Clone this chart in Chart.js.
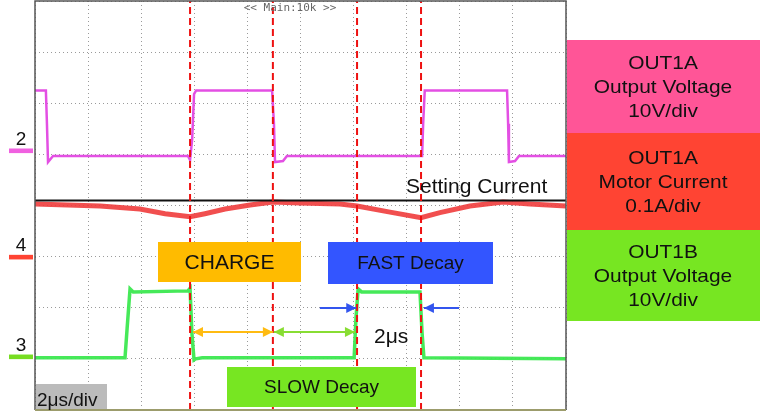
<!DOCTYPE html>
<html>
<head>
<meta charset="utf-8">
<script src="https://cdn.jsdelivr.net/npm/chart.js@4/dist/chart.umd.min.js"></script>
<style>
  html, body { margin: 0; padding: 0; background: #fff; }
  canvas { display: block; }
</style>
</head>
<body>
<canvas id="scope" width="760" height="414"></canvas>
<script>
// time in us (2us/div, 10 div), amplitude in divisions (8 div)
var ch2Time = [0, 0.41, 0.45, 0.49, 0.68, 5.76, 5.84, 5.92, 5.99, 6.07, 8.93, 9.0, 9.04, 9.34, 9.49, 14.58, 14.62, 14.68, 17.78, 17.82, 17.85, 18.08, 18.23, 20];
var ch2Volt = [6.25, 6.25, 5.6, 4.85, 4.97, 4.97, 4.89, 5.3, 6.18, 6.25, 6.25, 5.6, 4.85, 4.87, 4.97, 4.97, 5.6, 6.25, 6.25, 5.6, 4.85, 4.87, 4.97, 4.97];

var ch4Time = [0, 2.45, 3.95, 4.9, 5.84, 6.4, 7.16, 8.1, 8.96, 9.98, 11.49, 12.13, 13.37, 14.54, 15.25, 16.38, 17.63, 18.64, 20];
var ch4Amp  = [4.03, 3.99, 3.93, 3.84, 3.78, 3.84, 3.93, 4.01, 4.07, 4.05, 4.03, 3.99, 3.87, 3.76, 3.86, 3.99, 4.07, 4.03, 3.99];

var ch3Time = [0, 3.39, 3.47, 3.58, 3.7, 5.76, 5.84, 5.91, 5.99, 6.05, 6.3, 12.02, 12.09, 12.17, 12.3, 14.5, 14.58, 14.65, 20];
var ch3Volt = [1.02, 1.02, 1.6, 2.37, 2.31, 2.33, 2.38, 1.5, 0.98, 1.0, 1.02, 1.02, 1.8, 2.37, 2.31, 2.31, 1.5, 1.02, 1.0];

var settingCurrent = 4.1;
var cursorTimes = [5.84, 8.96, 12.13, 14.54];

var channelLabels = ['2', '4', '3'];
var channelLevels = [5.07, 2.99, 1.04];

var legendTitles = [
  ['OUT1A', 'Output Voltage', '10V/div'],
  ['OUT1A', 'Motor Current', '0.1A/div'],
  ['OUT1B', 'Output Voltage', '10V/div']
];

function pts(xs, ys) {
  return xs.map(function (x, i) { return { x: x, y: ys[i] }; });
}

var FONT = '"Liberation Sans", Arial, sans-serif';

var datasets = [];
cursorTimes.forEach(function (t) {
  datasets.push({
    data: [{ x: t, y: 0 }, { x: t, y: 8 }],
    borderColor: '#ee1111', borderWidth: 2, borderDash: [7, 4],
    pointRadius: 0, order: 0
  });
});
datasets.push({
  data: [{ x: 0, y: settingCurrent }, { x: 20, y: settingCurrent }],
  borderColor: '#111111', borderWidth: 2, pointRadius: 0, order: 1
});
datasets.push({
  data: pts(ch2Time, ch2Volt),
  borderColor: 'rgba(226, 70, 226, 0.95)', borderWidth: 2.5, pointRadius: 0, order: 2
});
datasets.push({
  data: pts(ch4Time, ch4Amp),
  borderColor: 'rgba(240, 60, 60, 0.9)', borderWidth: 5, pointRadius: 0, order: 3
});
datasets.push({
  data: pts(ch3Time, ch3Volt),
  borderColor: 'rgba(60, 232, 80, 0.95)', borderWidth: 3.5, pointRadius: 0, order: 4
});

function stretchText(ctx, text, x, y, sx) {
  ctx.save();
  ctx.translate(x, y);
  ctx.scale(sx, 1);
  ctx.fillText(text, 0, 0);
  ctx.restore();
}

function arrow(ctx, x1, x2, y, color, headStart, headEnd) {
  ctx.save();
  ctx.strokeStyle = color;
  ctx.fillStyle = color;
  ctx.lineWidth = 2;
  ctx.beginPath();
  ctx.moveTo(x1, y);
  ctx.lineTo(x2, y);
  ctx.stroke();
  var dir = x2 > x1 ? 1 : -1;
  if (headEnd) {
    ctx.beginPath();
    ctx.moveTo(x2, y);
    ctx.lineTo(x2 - dir * 10, y - 5);
    ctx.lineTo(x2 - dir * 10, y + 5);
    ctx.closePath();
    ctx.fill();
  }
  if (headStart) {
    ctx.beginPath();
    ctx.moveTo(x1, y);
    ctx.lineTo(x1 + dir * 10, y - 5);
    ctx.lineTo(x1 + dir * 10, y + 5);
    ctx.closePath();
    ctx.fill();
  }
  ctx.restore();
}

function box(ctx, x1, y1, x2, y2, fill, text, size) {
  ctx.fillStyle = fill;
  ctx.fillRect(x1, y1, x2 - x1, y2 - y1);
  ctx.fillStyle = '#111';
  ctx.font = size + 'px ' + FONT;
  ctx.textAlign = 'center';
  ctx.textBaseline = 'middle';
  ctx.fillText(text, (x1 + x2) / 2, (y1 + y2) / 2 + 1);
}

var scopeDecor = {
  id: 'scopeDecor',
  afterDatasetsDraw: function (chart) {
    var ctx = chart.ctx;
    var a = chart.chartArea;
    var xs = chart.scales.x, ys = chart.scales.y;
    var X = function (v) { return xs.getPixelForValue(v); };
    var Y = function (v) { return ys.getPixelForValue(v); };

    ctx.save();
    // frame
    ctx.strokeStyle = '#555';
    ctx.lineWidth = 1.5;
    ctx.beginPath();
    ctx.moveTo(a.left, a.bottom);
    ctx.lineTo(a.left, a.top);
    ctx.lineTo(a.right, a.top);
    ctx.lineTo(a.right, a.bottom);
    ctx.stroke();
    ctx.strokeStyle = '#9c9c6c';
    ctx.lineWidth = 2;
    ctx.beginPath();
    ctx.moveTo(a.left, a.bottom);
    ctx.lineTo(a.right, a.bottom);
    ctx.stroke();

    // top label
    ctx.fillStyle = '#666';
    ctx.font = '11px "DejaVu Sans Mono", monospace';
    ctx.textAlign = 'center';
    ctx.textBaseline = 'middle';
    ctx.fillText('<< Main:10k >>', 290, 8);

    // setting current text
    ctx.fillStyle = '#111';
    ctx.font = '21px ' + FONT;
    ctx.textAlign = 'left';
    ctx.textBaseline = 'alphabetic';
    ctx.fillText('Setting Current', 406, Y(settingCurrent) - 7);

    // annotation boxes
    box(ctx, 158, 242, 301, 282, '#ffbb00', 'CHARGE', 21);
    box(ctx, 328, 242, 493, 284, '#3355ff', 'FAST Decay', 19);
    box(ctx, 227, 367, 416, 407, '#77e622', 'SLOW Decay', 19);

    // time/div label
    ctx.fillStyle = '#bbbbbb';
    ctx.fillRect(a.left + 1, 384, 71, a.bottom - 385);
    ctx.fillStyle = '#111';
    ctx.font = '19px ' + FONT;
    ctx.textAlign = 'left';
    ctx.textBaseline = 'alphabetic';
    ctx.fillText('2\u03bcs/div', 37, 406);

    // arrows
    var ay = 332;
    arrow(ctx, X(5.95), X(cursorTimes[1]), ay, '#ffbb11', true, true);
    arrow(ctx, X(cursorTimes[1]) + 1, X(12.05), ay, '#88dd33', true, true);
    arrow(ctx, X(10.73), X(12.1), 308, '#3355ee', false, true);
    arrow(ctx, X(15.97), X(14.65), 308, '#3355ee', false, true);
    ctx.fillStyle = '#111';
    ctx.font = '21px ' + FONT;
    ctx.textAlign = 'left';
    ctx.fillText('2\u03bcs', 374, 343);

    // channel markers
    var markColors = ['#f060e0', '#ff4433', '#77dd22'];
    channelLabels.forEach(function (lab, i) {
      var py = Y(channelLevels[i]);
      ctx.fillStyle = markColors[i];
      ctx.fillRect(9, py - 2.3, 24, 4.6);
      ctx.fillStyle = '#111';
      ctx.font = '19px ' + FONT;
      ctx.textAlign = 'center';
      ctx.fillText(lab, 21, py - 6);
    });

    // right side legend boxes
    var legColors = ['#ff5597', '#ff4433', '#77e622'];
    var legTops = [40, 133, 230, 321];
    legendTitles.forEach(function (lines, i) {
      var t = legTops[i], b = legTops[i + 1];
      ctx.fillStyle = legColors[i];
      ctx.fillRect(a.right + 1, t, 760 - a.right - 1, b - t);
      ctx.fillStyle = '#111';
      ctx.font = '19px ' + FONT;
      ctx.textAlign = 'center';
      ctx.textBaseline = 'alphabetic';
      var c = (t + b) / 2;
      lines.forEach(function (s, k) {
        stretchText(ctx, s, 663, c - 18 + k * 24, 1.1);
      });
    });
    ctx.restore();
  }
};

new Chart(document.getElementById('scope'), {
  type: 'line',
  data: { datasets: datasets },
  options: {
    responsive: false,
    animation: false,
    devicePixelRatio: 1,
    layout: { padding: { left: 35, top: 1, right: 194, bottom: 4 } },
    plugins: { legend: { display: false }, tooltip: { enabled: false } },
    elements: { line: { tension: 0, fill: false } },
    scales: {
      x: {
        type: 'linear', min: 0, max: 20,
        ticks: { display: false, stepSize: 2 },
        grid: { color: '#9a9a9a', lineWidth: 1, drawTicks: false },
        border: { display: false, dash: [1, 3] }
      },
      y: {
        type: 'linear', min: 0, max: 8,
        ticks: { display: false, stepSize: 1 },
        grid: { color: '#9a9a9a', lineWidth: 1, drawTicks: false },
        border: { display: false, dash: [1, 3] }
      }
    }
  },
  plugins: [scopeDecor]
});
</script>
</body>
</html>
